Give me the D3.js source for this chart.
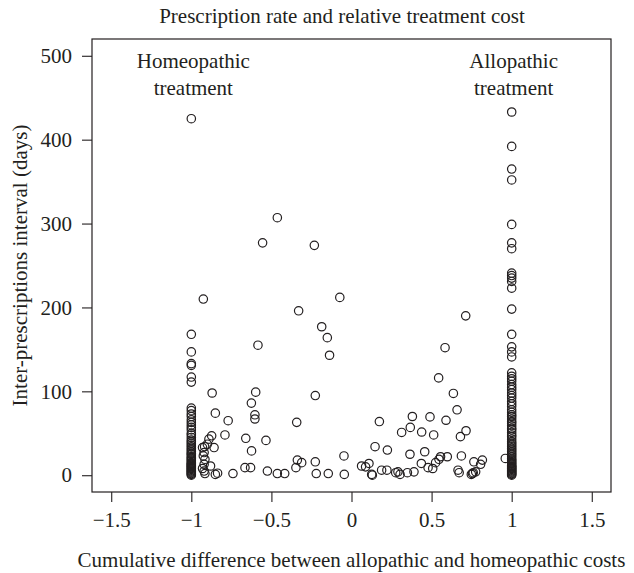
<!DOCTYPE html>
<html>
<head>
<meta charset="utf-8">
<script src="https://cdn.jsdelivr.net/npm/d3@7"></script>
<style>
  body { margin: 0; background: #fff; }
  text { font-family: "Liberation Serif", "DejaVu Serif", serif; fill: #231f20; }
</style>
</head>
<body>
<div id="chart"></div>
<script>
// tick values for both axes
var xTicks = [-1.5, -1, -0.5, 0, 0.5, 1, 1.5];
var yTicks = [0, 100, 200, 300, 400, 500];

// intervals (days) of patients sitting at -1 (homeopathic only)
var homeoColumn = [425, 168, 147, 133, 131, 117, 111, 80, 77, 73, 70, 66, 63, 60, 57, 54,
  50, 48, 45, 42, 40, 38, 36, 34, 32, 30, 28, 26, 25, 23, 21, 20, 18, 17, 15, 14, 13, 12,
  11, 10, 9, 8, 7, 6, 5, 4, 3, 2, 1, 0];

// intervals (days) of patients sitting at +1 (allopathic only)
var alloColumn = [433, 392, 365, 352, 299, 277, 270, 241, 238, 235, 231, 223, 198, 168,
  153, 147, 141, 122, 118, 115, 112, 108, 105, 102, 98, 95, 92, 88, 85, 82, 78, 75, 72,
  70, 67, 64, 62, 59, 56, 54, 51, 48, 46, 43, 40, 38, 36, 34, 32, 30, 28, 26, 24, 22, 20,
  18, 17, 15, 14, 12, 11, 10, 9, 8, 7, 6, 5, 4, 3, 2, 1, 0];

// mixed patients: cost difference and interval
var mixedX = [-0.925, -0.87, -0.85, -0.77, -0.79, -0.873, -0.89, -0.858, -0.93, -0.90,
  -0.917, -0.925, -0.915, -0.92, -0.88, -0.92, -0.915, -0.85, -0.836, -0.74, -0.92, -0.93,
  -0.584, -0.598, -0.625, -0.603, -0.603, -0.66, -0.534, -0.624, -0.665, -0.63, -0.525,
  -0.463, -0.555, -0.463, -0.417, -0.342, -0.338, -0.311, -0.347, -0.33, -0.232, -0.226,
  -0.226, -0.22, -0.186, -0.151, -0.137, -0.145, -0.073, -0.047, -0.045,
  0.063, 0.088, 0.109, 0.126, 0.13, 0.147, 0.174, 0.188, 0.221, 0.224, 0.276, 0.29, 0.303,
  0.313, 0.349, 0.365, 0.367, 0.38, 0.39, 0.436, 0.438, 0.457, 0.478, 0.49, 0.507, 0.513,
  0.525, 0.546, 0.544, 0.556, 0.584, 0.59, 0.598, 0.636, 0.659, 0.665, 0.672, 0.68, 0.686,
  0.713, 0.715, 0.748, 0.755, 0.76, 0.764, 0.775, 0.806, 0.817, 0.96];
var mixedY = [210, 98, 74, 65, 48, 47, 43, 33, 33, 37,
  34, 23, 19, 13, 11, 5, 2, 1, 2.4, 2, 27, 8,
  155, 99, 86, 72, 67, 44, 41.5, 29, 9, 9, 5,
  307, 277, 2, 2, 63, 18, 15, 9, 196, 274, 95,
  16, 2, 177, 164, 143, 2, 212, 23, 1,
  11, 10, 14, 1, 0, 34, 64, 6, 6, 30, 3, 4, 1,
  51, 3, 25, 57, 70, 4, 14, 51.5, 28, 9, 69.5, 8, 48,
  15, 19, 116, 22, 152, 65.5, 22, 97.5, 78, 6, 3, 46, 23,
  190, 53, 1, 2, 3, 16, 4, 13, 18, 20];

var notes = [
  {x: -1, lines: ["Homeopathic", "treatment"]},
  {x: 1, lines: ["Allopathic", "treatment"]}
];

var W = 634, H = 573;
var margin = {top: 39, right: 23, bottom: 81, left: 92};
var width = W - margin.left - margin.right,
    height = H - margin.top - margin.bottom;

var svg = d3.select("#chart").append("svg")
    .attr("width", W).attr("height", H);

var g = svg.append("g")
    .attr("transform", "translate(" + margin.left + "," + margin.top + ")");

// R style limits: data range padded by 4%
var x = d3.scaleLinear().domain([-1.62, 1.62]).range([0, width]);
var y = d3.scaleLinear().domain([-20, 520]).range([height, 0]);

var points = [];
homeoColumn.forEach(function(v) { points.push([-1, v]); });
alloColumn.forEach(function(v) { points.push([1, v]); });
mixedX.forEach(function(v, i) { points.push([v, mixedY[i]]); });

g.selectAll("circle.pt").data(points).enter().append("circle")
    .attr("class", "pt")
    .attr("cx", function(d) { return x(d[0]); })
    .attr("cy", function(d) { return y(d[1]); })
    .attr("r", 4.2)
    .attr("fill", "none")
    .attr("stroke", "#231f20")
    .attr("stroke-width", 1.2);

g.append("rect")
    .attr("width", width).attr("height", height)
    .attr("fill", "none").attr("stroke", "#231f20").attr("stroke-width", 1.2);

var xAxis = g.append("g")
    .attr("transform", "translate(0," + height + ")")
    .call(d3.axisBottom(x).tickValues(xTicks).tickSize(10).tickPadding(10)
      .tickFormat(function(d) { return d3.format("")(d).replace("-", "\u2013"); }));

var yAxis = g.append("g")
    .call(d3.axisLeft(y).tickValues(yTicks).tickSize(10).tickPadding(10));

[xAxis, yAxis].forEach(function(a) {
  a.select(".domain").remove();
  a.selectAll("line").attr("stroke", "#231f20").attr("stroke-width", 1.1);
  a.selectAll("text").style("font-size", "21px")
    .style("font-family", "'Liberation Serif', serif").attr("fill", "#231f20");
});

var noteG = g.selectAll("text.note").data(notes).enter().append("text")
    .attr("class", "note")
    .attr("text-anchor", "middle")
    .style("font-size", "21px");
noteG.selectAll("tspan").data(function(d) { return d.lines.map(function(l) { return [d.x, l]; }); })
  .enter().append("tspan")
    .attr("x", function(d) { return x(d[0]) + 2; })
    .attr("y", function(d, i) { return 29 + i * 27; })
    .text(function(d) { return d[1]; });

svg.append("text")
    .attr("x", 342).attr("y", 23)
    .attr("text-anchor", "middle").style("font-size", "21px")
    .text("Prescription rate and relative treatment cost");

svg.append("text")
    .attr("x", margin.left + width / 2).attr("y", 567)
    .attr("text-anchor", "middle").style("font-size", "21px")
    .text("Cumulative difference between allopathic and homeopathic costs");

svg.append("text")
    .attr("transform", "translate(27," + (margin.top + height / 2) + ") rotate(-90)")
    .attr("text-anchor", "middle").style("font-size", "21px")
    .text("Inter-prescriptions interval (days)");
</script>
</body>
</html>
